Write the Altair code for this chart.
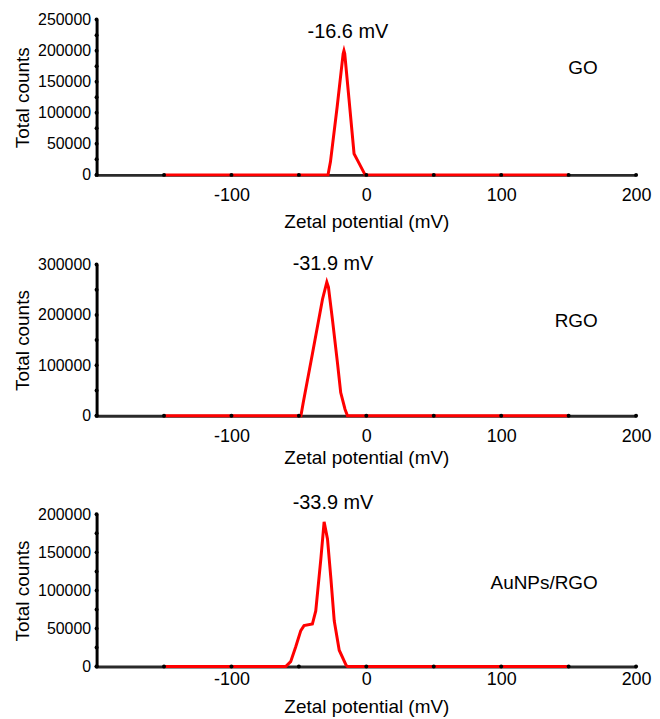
import altair as alt
import pandas as pd

FONT = "Liberation Sans"

# ---------------- data ----------------
sample_names = ["GO", "RGO", "AuNPs/RGO"]
peak_labels = ["-16.6 mV", "-31.9 mV", "-33.9 mV"]

go_v = [-150, -28.4, -26.6, -21.6, -17.2, -16.6, -16.0, -12.9, -9.1, -6.6, -0.9, 150]
go_c = [0, 0, 21000, 110000, 195000, 200000, 195000, 123000, 34000, 23700, 0, 0]

rgo_v = [-150, -48.5, -46.8, -39.9, -32.5, -29.3, -28.1, -25.1, -21.4, -19.0, -15.8, -14.0, 150]
rgo_c = [0, 0, 26000, 124000, 231000, 265000, 255000, 190000, 105000, 46000, 13000, 0, 0]

au_v = [-150, -59.8, -56.1, -52.4, -48.6, -46.2, -40.0, -37.5, -33.7, -31.3, -28.8,
        -26.3, -23.8, -20.1, -15.1, -13.9, 150]
au_c = [0, 0, 6500, 25800, 47300, 53750, 55900, 73100, 141900, 190000, 167700,
        116100, 60200, 21500, 2150, 0, 0]

x_dot_values = [-200, -150, -100, -50, 0, 50, 100, 150, 200]
x_label_values = [-100, 0, 100, 200]

go_y_dots = [0, 25000, 50000, 75000, 100000, 125000, 150000, 175000, 200000, 225000, 250000]
go_y_labels = [0, 50000, 100000, 150000, 200000, 250000]
rgo_y_dots = [0, 50000, 100000, 150000, 200000, 250000, 300000]
rgo_y_labels = [0, 100000, 200000, 300000]
au_y_dots = [0, 25000, 50000, 75000, 100000, 125000, 150000, 175000, 200000]
au_y_labels = [0, 50000, 100000, 150000, 200000]

y_max = [250000, 300000, 200000]


def panel(v, c, ymax, ydots, ylabels, height, peak_text, name,
          peak_x, peak_y, name_y, lab_pad, title_pad):
    line_df = pd.DataFrame({"v": v, "c": c})
    xd_df = pd.DataFrame({"v": x_dot_values, "c": [0] * len(x_dot_values)})
    yd_df = pd.DataFrame({"v": [-200] * len(ydots), "c": ydots})
    txt_df = pd.DataFrame({"peak": [peak_text], "name": [name]})

    xs = alt.Scale(domain=[-200, 200], nice=False, zero=False)
    ys = alt.Scale(domain=[0, ymax], nice=False)

    x_axis = alt.Axis(
        values=x_label_values, ticks=False, tickSize=0, grid=False,
        labelExpr="'' + datum.value", labelFlush=False, labelOverlap=False,
        domainColor="#2a2a2a", domainWidth=3, labelFontSize=18,
        labelPadding=lab_pad, labelFont=FONT, labelColor="black",
        title="Zetal potential (mV)", titleFontSize=19, titleFont=FONT,
        titleFontWeight="normal", titleColor="black", titlePadding=title_pad)
    y_axis = alt.Axis(
        values=ylabels, ticks=False, tickSize=0, grid=False,
        labelExpr="'' + datum.value", labelFlush=False, labelOverlap=False,
        domainColor="black", domainWidth=3, labelFontSize=16,
        labelPadding=6, labelFont=FONT, labelColor="black",
        title="Total counts", titleFontSize=19, titleFont=FONT,
        titleFontWeight="normal", titleColor="black", titlePadding=5)

    X = alt.X("v:Q", scale=xs, axis=x_axis)
    Y = alt.Y("c:Q", scale=ys, axis=y_axis)

    line = alt.Chart(line_df).mark_line(color="#ff0000", strokeWidth=3).encode(x=X, y=Y)
    xdots = alt.Chart(xd_df).mark_circle(size=16, color="black", opacity=1).encode(x=X, y=Y)
    ydots_l = alt.Chart(yd_df).mark_circle(size=16, color="black", opacity=1).encode(x=X, y=Y)
    ptxt = alt.Chart(txt_df).mark_text(font=FONT, fontSize=20, color="black",
                                       align="center", baseline="middle").encode(
        text="peak:N", x=alt.value(peak_x), y=alt.value(peak_y))
    ntxt = alt.Chart(txt_df).mark_text(font=FONT, fontSize=19, color="black",
                                       align="right", baseline="middle").encode(
        text="name:N", x=alt.value(503.5), y=alt.value(name_y))
    return alt.layer(line, xdots, ydots_l, ptxt, ntxt).properties(width=542, height=height)


p1 = panel(go_v, go_c, y_max[0], go_y_dots, go_y_labels, 156, peak_labels[0],
           sample_names[0], 252.5, 12, 49, 12, 7.5)
p2 = panel(rgo_v, rgo_c, y_max[1], rgo_y_dots, rgo_y_labels, 152, peak_labels[1],
           sample_names[1], 237.5, 0, 57, 12, 3)
p3 = panel(au_v, au_c, y_max[2], au_y_dots, au_y_labels, 153, peak_labels[2],
           sample_names[2], 237.5, -11.6, 69, 4, 9)

top_pair = alt.vconcat(p1, p2, spacing=23)
chart = alt.vconcat(top_pair, p3, spacing=25).properties(
    padding={"left": 5, "top": 2, "right": 0, "bottom": 0}
).configure(background="white").configure_view(stroke=None)

chart.save("out.html", embed_options={"renderer": "svg", "actions": False})
